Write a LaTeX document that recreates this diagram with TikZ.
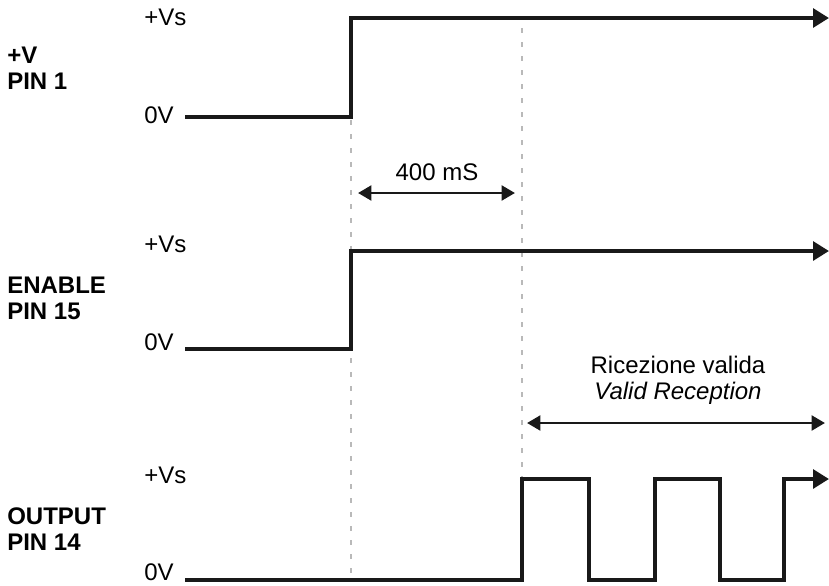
\documentclass[tikz,border=0pt]{standalone}
\usepackage{fontspec}
\setmainfont{Liberation Sans}
\usetikzlibrary{arrows.meta}
\def\tend{829}
\def\tup{351}
\def\tvalid{522}
\tikzset{
  sig/.style={line width=3.2pt,black!90,line join=miter},
  sigend/.style={sig,-{Triangle[length=12pt,width=14pt]}},
  span/.style={line width=2.2pt,black!90,{Triangle[length=10pt,width=11pt]}-{Triangle[length=10pt,width=11pt]}},
  guide/.style={line width=1.6pt,gray!55,dash pattern=on 3.75pt off 6.75pt},
  lvl/.style={anchor=west,inner sep=0pt},
  pinlbl/.style={anchor=west,inner sep=0pt,align=left,font=\fontsize{18}{19.5}\selectfont\bfseries},
}
\begin{document}
\begin{tikzpicture}[x=0.75pt,y=-0.75pt,font=\fontsize{18}{19.5}\selectfont]
        \useasboundingbox (0,0) rectangle (829,586);
        %
        % guide lines
        \coordinate (g1top) at (\tup,120);
        \coordinate (g1bot) at (\tup,577);
        \coordinate (g2top) at (\tvalid,28);
        \coordinate (g2bot) at (\tvalid,480);
        \draw[guide] (g1top) -- (g1bot);
        \draw[guide] (g2top) -- (g2bot);
        %
        % +V PIN 1
        \node[pinlbl] (vpin) at (7,68) {+V\\PIN 1};
        \node[lvl] (vhi) at (144,17) {+Vs};
        \node[lvl] (vlo) at (144,115) {0V};
        \coordinate (v0) at (185,117);
        \coordinate (v1) at (\tup,117);
        \coordinate (v2) at (\tup,18);
        \coordinate (v3) at (\tend,18);
        \draw[sigend] (v0) -- (v1) -- (v2) -- (v3);
        %
        % 400 mS
        \coordinate (dl) at (358,193);
        \coordinate (dr) at (515,193);
        \draw[span] (dl) -- (dr);
        \node (dtxt) at (437,172) {400 mS};
        %
        % ENABLE PIN 15
        \node[pinlbl] (epin) at (7,298) {ENABLE\\PIN 15};
        \node[lvl] (ehi) at (144,244) {+Vs};
        \node[lvl] (elo) at (144,342) {0V};
        \coordinate (e0) at (185,349);
        \coordinate (e1) at (\tup,349);
        \coordinate (e2) at (\tup,251);
        \coordinate (e3) at (\tend,251);
        \draw[sigend] (e0) -- (e1) -- (e2) -- (e3);
        %
        % valid reception
        \coordinate (rl) at (527,423);
        \coordinate (rr) at (825,423);
        \draw[span] (rl) -- (rr);
        \node[align=center] (rtxt) at (678,380) {Ricezione valida\\\itshape Valid Reception};
        %
        % OUTPUT PIN 14
        \node[pinlbl] (opin) at (7,529) {OUTPUT\\PIN 14};
        \node[lvl] (ohi) at (144,475) {+Vs};
        \node[lvl] (olo) at (144,572) {0V};
        \coordinate (o0) at (185,580);
        \draw[sigend] (o0) -- (\tvalid,580) -- (\tvalid,479) -- (589,479) -- (589,580)
          -- (655,580) -- (655,479) -- (720,479) -- (720,580)
          -- (784,580) -- (784,479) -- (\tend,479);
      \end{tikzpicture}
\end{document}
